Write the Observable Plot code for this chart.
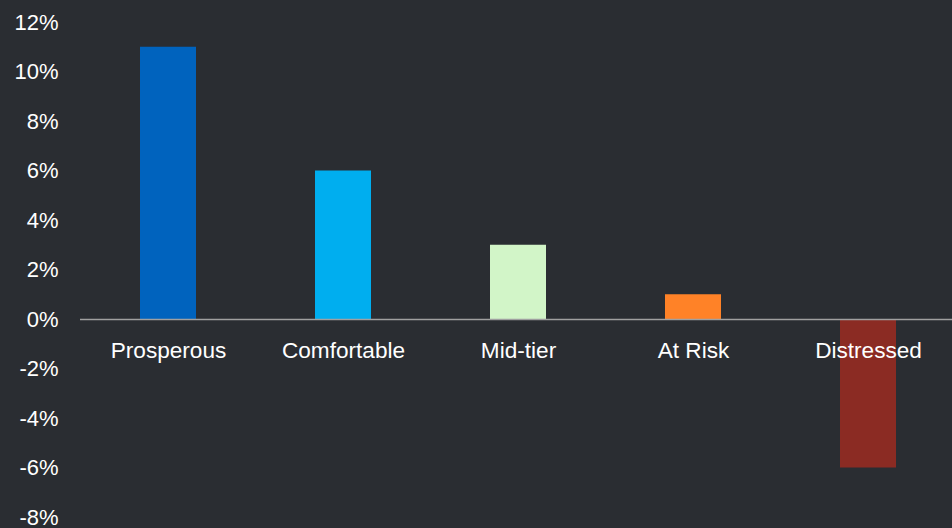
<!DOCTYPE html>
<html>
<head>
<meta charset="utf-8">
<script src="https://cdn.jsdelivr.net/npm/d3@7"></script>
<script src="https://cdn.jsdelivr.net/npm/@observablehq/plot@0.6"></script>
<style>
  html, body { margin: 0; padding: 0; background: #2a2d32; }
  #chart svg { display: block; }
</style>
</head>
<body>
<div id="chart"></div>
<script>
const categories = ["Prosperous", "Comfortable", "Mid-tier", "At Risk", "Distressed"];
const values = [11, 6, 3, 1, -6];
const colors = ["#0063be", "#00aeef", "#d2f5c8", "#ff8227", "#8b2b23"];
const yTicks = [-8, -6, -4, -2, 0, 2, 4, 6, 8, 10, 12];

const data = categories.map((c, i) => ({category: c, value: values[i], color: colors[i]}));

const chart = Plot.plot({
  width: 952,
  height: 528,
  marginTop: 22,
  marginBottom: 11,
  marginLeft: 80,
  marginRight: 0,
  style: {background: "#2a2d32", color: "#ffffff", fontFamily: "'Liberation Sans', Arial, Helvetica, sans-serif", fontSize: "22px"},
  x: {domain: categories, range: [80, 956], paddingInner: 0.68, paddingOuter: 0.34, axis: null},
  y: {domain: [-8, 12], ticks: yTicks, tickFormat: d => d + "%", tickSize: 0, tickPadding: 22, label: null},
  marks: [
    Plot.barY(data, {x: "category", y: "value", fill: "color"}),
    Plot.ruleY([0], {stroke: "#a0a0a0", strokeWidth: 1.5}),
    Plot.text(data, {x: "category", y: () => 0, text: "category", dy: 31, fill: "#ffffff", fontSize: 22.6})
  ]
});
document.getElementById("chart").appendChild(chart);
</script>
</body>
</html>
